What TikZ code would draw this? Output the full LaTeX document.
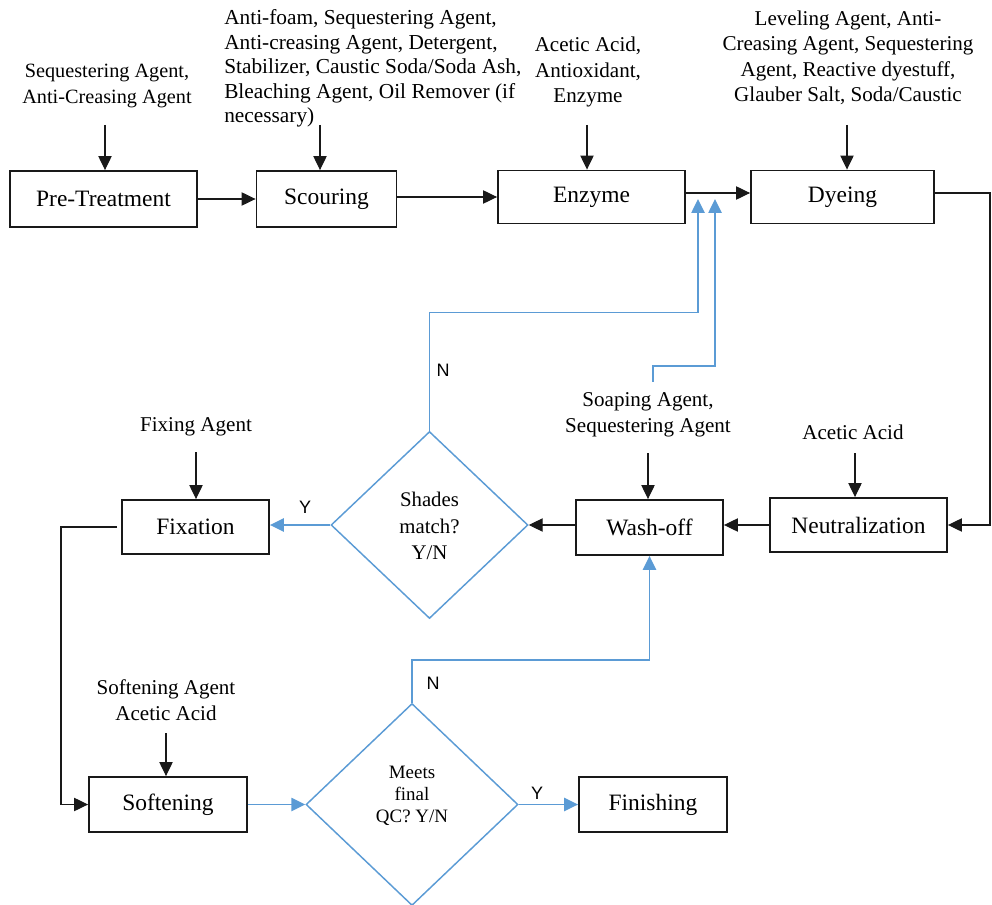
\documentclass[tikz,border=0pt]{standalone}
\usepackage{fontspec}
\setmainfont{Liberation Serif}
\newfontfamily\labelsans{Liberation Sans}
\usetikzlibrary{shapes.geometric,arrows.meta}
\definecolor{flowblue}{RGB}{91,155,213}
\begin{document}
\begin{tikzpicture}[x=0.75pt,y=-0.75pt,
  stepbox/.style={draw=black!90,line width=1.4pt,inner sep=0pt,
    font=\fontsize{17.6}{20}\selectfont},
  anno/.style={inner sep=0pt,align=center,font=\fontsize{15.8}{19.1}\selectfont},
  decision/.style={draw=flowblue,line width=1.1pt,shape=diamond,inner sep=0pt},
  dtext/.style={inner sep=0pt,align=center},
  yn/.style={inner sep=0pt,font=\labelsans\fontsize{13.5}{16}\selectfont},
  arr/.style={-{Triangle[length=10.5pt,width=10pt]},line width=0.8pt,draw=black!90},
  barr/.style={-{Triangle[length=10.5pt,width=10pt]},line width=1.1pt,draw=flowblue},
]
\useasboundingbox (0,0) rectangle (992,905);

% process steps
\node[stepbox,minimum width=140.25pt,minimum height=42pt]    (pre)   at (103.5,199)  {Pre-Treatment};
\node[stepbox,minimum width=105pt,minimum height=42pt]       (scour) at (326.5,199)  {Scouring};
\node[stepbox,minimum width=140.25pt,minimum height=39.75pt] (enz)   at (591.5,197)  {Enzyme};
\node[stepbox,minimum width=137.25pt,minimum height=39.75pt] (dye)   at (842.5,197)  {Dyeing};
\node[stepbox,minimum width=132.75pt,minimum height=40.5pt]  (neut)  at (858.5,525)  {Neutralization};
\node[stepbox,minimum width=110.25pt,minimum height=41.25pt] (wash)  at (649.5,527.5){Wash-off};
\node[stepbox,minimum width=110.25pt,minimum height=40.5pt]  (fix)   at (195.5,527)  {Fixation};
\node[stepbox,minimum width=118.5pt,minimum height=41.25pt]  (soft)  at (168,804.5)  {Softening};
\node[stepbox,minimum width=111pt,minimum height=41.25pt]    (fin)   at (653,804.5)  {Finishing};

% decisions
\node[decision,minimum width=147.75pt,minimum height=140.25pt] (shades) at (429.5,525) {};
\node[dtext,font=\fontsize{15.6}{20}\selectfont] (shadest) at (429.5,526) {Shades\\match?\\Y/N};
\node[decision,minimum width=159pt,minimum height=151.5pt] (meets) at (412,804.5) {};
\node[dtext,font=\fontsize{14.2}{16.5}\selectfont] (meetst) at (412,796) {Meets\\final\\QC? Y/N};

% chemicals added at each step
\node[anno,font=\fontsize{15.2}{20}\selectfont] (t1) at (107,86) {Sequestering Agent,\\Anti-Creasing Agent};
\node[anno,align=left,anchor=west,font=\fontsize{16}{18.3}\selectfont] (t2) at (224,68.5)
  {Anti-foam, Sequestering Agent,\\Anti-creasing Agent, Detergent,\\Stabilizer, Caustic Soda/Soda Ash,\\Bleaching Agent, Oil Remover (if\\necessary)};
\node[anno] (t3) at (588,72) {Acetic Acid,\\Antioxidant,\\Enzyme};
\node[anno] (t4) at (848,58) {Leveling Agent, Anti-\\Creasing Agent, Sequestering\\Agent, Reactive dyestuff,\\Glauber Salt, Soda/Caustic};
\node[anno] (t5) at (853,432) {Acetic Acid};
\node[anno] (t6) at (648,415) {Soaping Agent,\\Sequestering Agent};
\node[anno] (t7) at (196,427) {Fixing Agent};
\node[anno] (t8) at (166,700) {Softening Agent\\Acetic Acid};

% starting points of the feed arrows
\coordinate (a1) at (105,125);
\coordinate (a2) at (320,125);
\coordinate (a3) at (587,125);
\coordinate (a4) at (847,125);
\coordinate (a5) at (855,453);
\coordinate (a6) at (648,453);
\coordinate (a7) at (196,452);
\coordinate (a8) at (166,733);
\foreach \s/\b in {a1/pre,a2/scour,a3/enz,a4/dye,a5/neut,a6/wash,a7/fix,a8/soft}
  \draw[arr] (\s) -- (\s |- \b.north);

% helper points for the routed lines
\coordinate (rx) at (990,350);
\coordinate (lx) at (61,650);
\coordinate (j1) at (698,199);
\coordinate (j2) at (715,199);
\coordinate (s0) at (653,382);

% main flow
\draw[arr] (pre.east) -- (pre.east -| scour.west);
\draw[arr] (scour.east |- enz.west) -- (enz.west);
\draw[arr] ([yshift=3pt]enz.east) -- ([yshift=3pt]dye.west);
\draw[arr] ([yshift=3pt]dye.east) -| (rx) |- (neut.east);
\draw[arr] (neut.west) -- (neut.west -| wash.east);
\draw[arr] (wash.west |- shades.east) -- (shades.east);
\draw[arr] ([xshift=-3pt]fix.west) -| (lx) |- (soft.west);

% decision branches
\draw[barr] (shades.west) -- (shades.west -| fix.east);
\draw[barr] (shades.north) -- ++(0,-118) -| (j1);
\draw[barr] (s0) -- ++(0,-16) -| (j2);
\draw[barr] (soft.east) -- (meets.west);
\draw[barr] (meets.east) -- (fin.west);
\draw[barr] (meets.north) -- ++(0,-43) -| (wash.south);

% branch labels
\node[yn] (n1) at (443,370) {N};
\node[yn] (y1) at (305,507) {Y};
\node[yn] (n2) at (433,683) {N};
\node[yn] (y2) at (537,793) {Y};
\end{tikzpicture}
\end{document}
